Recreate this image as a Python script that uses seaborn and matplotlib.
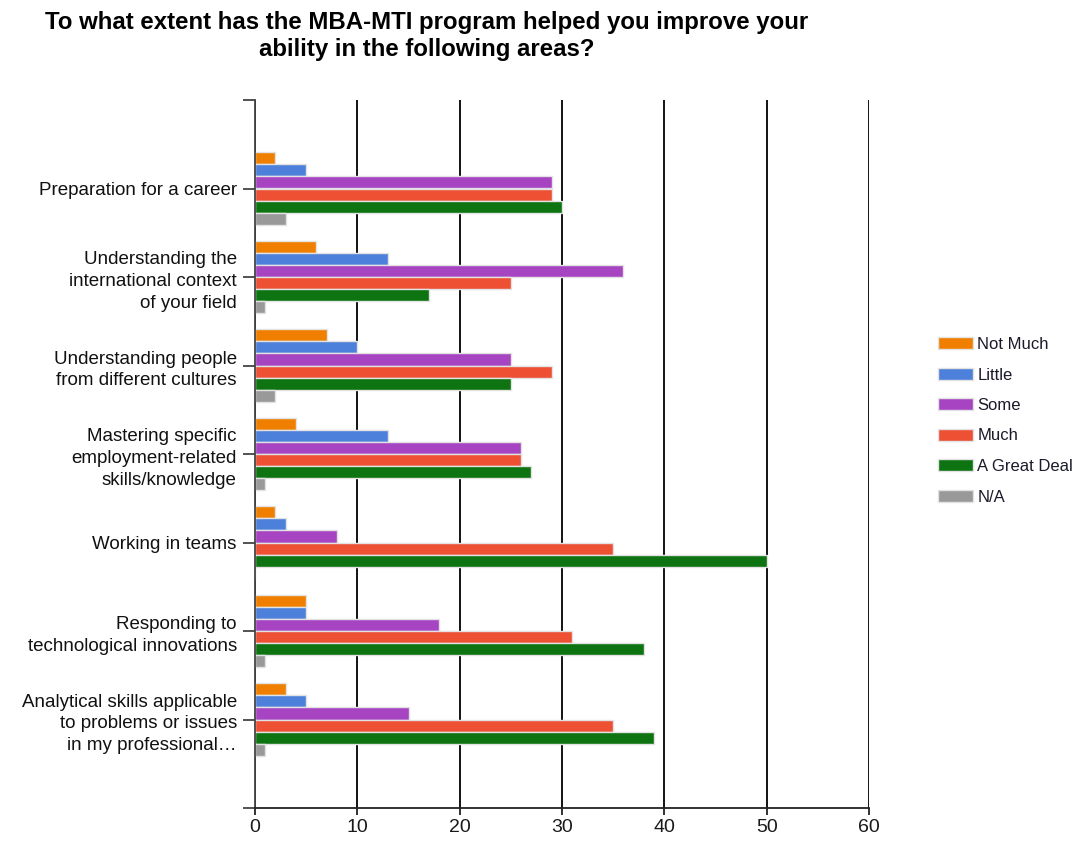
import matplotlib
matplotlib.use("Agg")
import matplotlib.pyplot as plt
import seaborn as sns
import pandas as pd

categories = [
    "Preparation for a career",
    "Understanding the\ninternational context\nof your field",
    "Understanding people\nfrom different cultures",
    "Mastering specific\nemployment-related\nskills/knowledge",
    "Working in teams",
    "Responding to\ntechnological innovations",
    "Analytical skills applicable\nto problems or issues\nin my professional\u2026",
]
series = ["Not Much", "Little", "Some", "Much", "A Great Deal", "N/A"]
not_much = [2, 6, 7, 4, 2, 5, 3]
little = [5, 13, 10, 13, 3, 5, 5]
some = [29, 36, 25, 26, 8, 18, 15]
much = [29, 25, 29, 26, 35, 31, 35]
great_deal = [30, 17, 25, 27, 50, 38, 39]
na = [3, 1, 2, 1, 0, 1, 1]
x_ticks = [0, 10, 20, 30, 40, 50, 60]
colors = ["#F07F00", "#4D80DA", "#A744C2", "#EE5034", "#0D7411", "#999999"]

values = [not_much, little, some, much, great_deal, na]
rows = []
for s, vals in zip(series, values):
    for c, v in zip(categories, vals):
        rows.append({"Area": c, "Response": s, "Count": v})
df = pd.DataFrame(rows)

sns.set_style("white")
plt.rcParams["font.family"] = ["Liberation Sans", "DejaVu Sans"]

fig = plt.figure(figsize=(10.79, 8.42), dpi=100)
ax = fig.add_axes([255 / 1079, 1 - 808 / 842, (869 - 255) / 1079, (808 - 100) / 842])

sns.barplot(data=df, y="Area", x="Count", hue="Response", orient="h",
            order=categories, hue_order=series, palette=colors, saturation=1,
            width=0.82, edgecolor="#e2e2e2", linewidth=1, ax=ax, legend=True,
            errorbar=None, zorder=3)

ax.set_xlim(0, 60)
ax.set_ylim(7, -1)
ax.set_xticks(x_ticks)
ax.set_xticklabels([str(t) for t in x_ticks], fontsize=14, color="#1a1a1a")
ax.set_yticks(list(range(-1, len(categories) + 1)))
ax.set_yticklabels([""] + categories + [""], fontsize=13.5, color="#111111",
                   linespacing=1.38)
ax.set_xlabel("")
ax.set_ylabel("")
ax.xaxis.grid(True, color="black", linewidth=1.3, zorder=1)
ax.yaxis.grid(False)
ax.set_axisbelow(True)
for side in ["top", "right"]:
    ax.spines[side].set_visible(False)
for side in ["left", "bottom"]:
    ax.spines[side].set_zorder(6)
    ax.spines[side].set_linewidth(1.3)
ax.spines["left"].set_color("#444444")
ax.spines["bottom"].set_color("#222222")
ax.tick_params(axis="y", which="major", length=8.6, width=1.3, color="#444444",
               direction="out", left=True, pad=4.5)
ax.tick_params(axis="x", which="major", length=5, width=1.3, color="#222222",
               direction="out", bottom=True, pad=3)

handles, labels = ax.get_legend_handles_labels()
ax.get_legend().remove()
fig.legend(handles, labels, loc="upper left",
           bbox_to_anchor=(938 / 1079, 1 - 337 / 842), frameon=False,
           fontsize=12, handlelength=2.1, handleheight=0.75,
           labelspacing=0.93, handletextpad=0.25, borderpad=0, borderaxespad=0,
           labelcolor="#1a1a2a")

fig.text(427 / 1079, 1 - 36 / 842,
         "To what extent has the MBA-MTI program helped you improve your\nability in the following areas?",
         ha="center", va="center", fontsize=17.3, fontweight="bold",
         linespacing=1.18, color="black")

fig.savefig("out.png", dpi=100)
